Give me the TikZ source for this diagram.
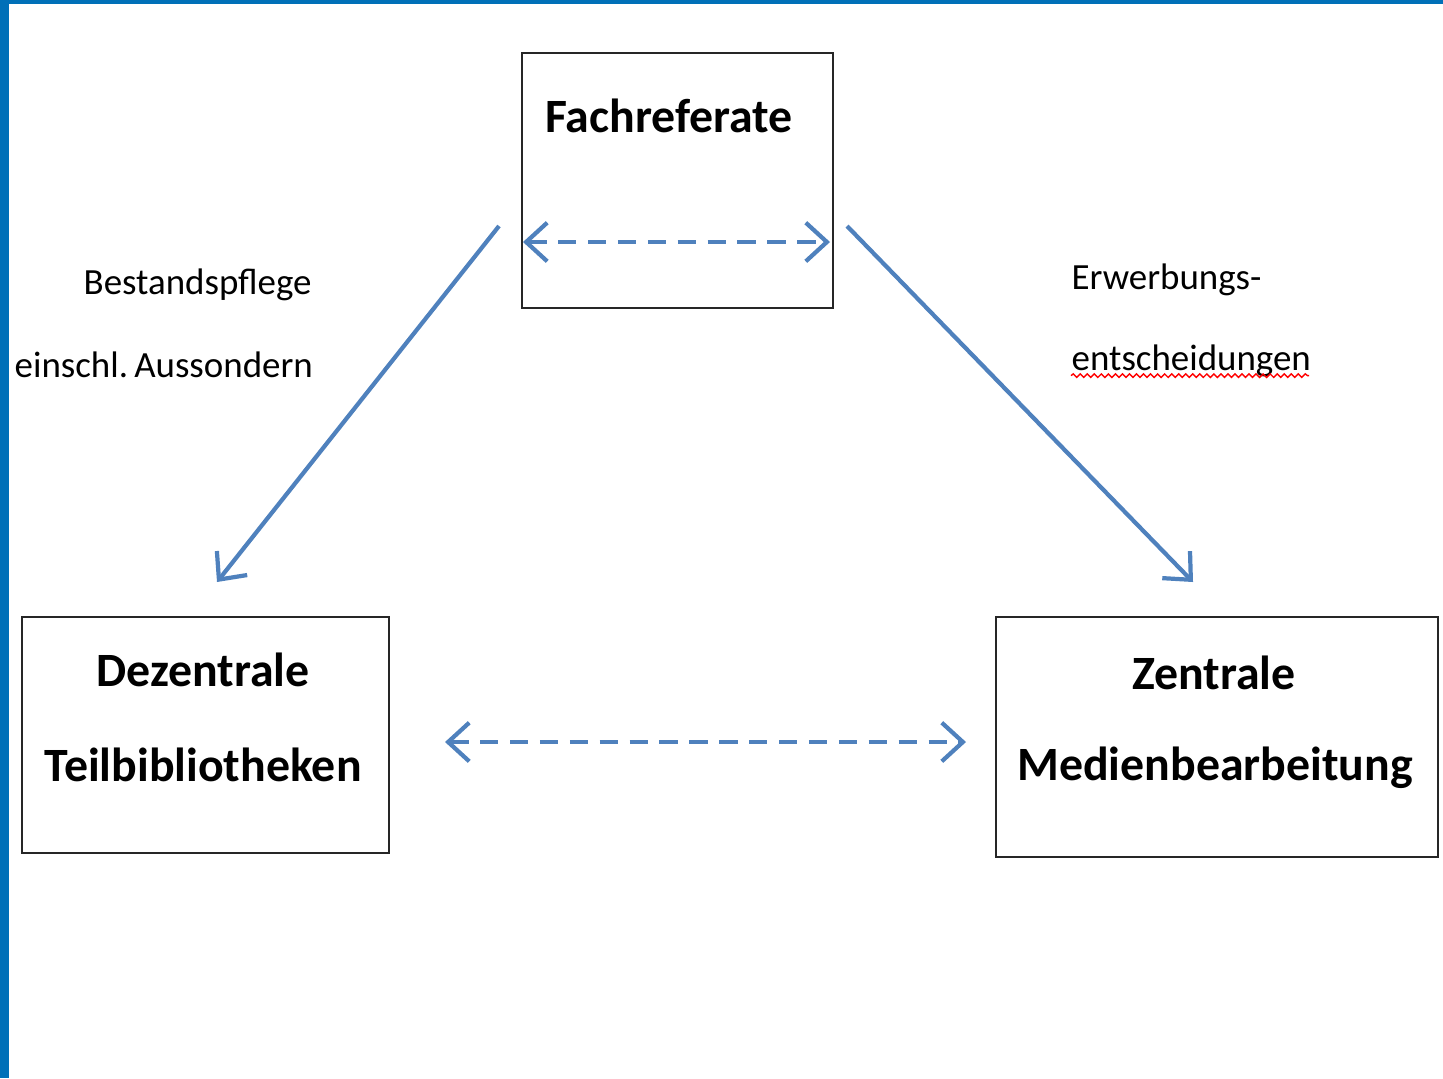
\documentclass[tikz,border=0pt]{standalone}
\usepackage{fontspec}
\setmainfont{Carlito}
\usetikzlibrary{arrows.meta,decorations.pathmorphing}
\definecolor{rahmen}{RGB}{0,112,184}
\definecolor{pfeil}{RGB}{79,129,189}
\begin{document}
\begin{tikzpicture}[x=0.01cm,y=-0.01cm,
  box/.style={draw=black!85, line width=0.6pt, rectangle, inner sep=0pt},
  titel/.style={font=\fontsize{13.6}{16}\selectfont\bfseries},
  notiz/.style={font=\fontsize{10.5}{13}\selectfont, anchor=west, inner sep=0pt},
  pfl/.style={draw=pfeil, line width=1.2pt, -{Straight Barb[length=6pt,width=11pt,line width=1.2pt]}},
  dpfl/.style={pfl, {Straight Barb[length=6pt,width=11pt,line width=1.2pt]}-{Straight Barb[length=6pt,width=11pt,line width=1.2pt]}, dash pattern=on 5.2pt off 3.3pt}]
\useasboundingbox (0,0) rectangle (1443,1078);
\fill[rahmen] (0,0) rectangle (9,1078);
\fill[rahmen] (0,0) rectangle (1443,4);

% Kaesten
\node(Fach)[box, minimum width=3.11cm, minimum height=2.55cm] at (677.5,180.5) {};
\node(Dez)[box, minimum width=3.67cm, minimum height=2.36cm] at (205.5,735) {};
\node(Zen)[box, minimum width=4.42cm, minimum height=2.40cm] at (1217,737) {};

\node(FachT)[titel] at (669,116) {Fachreferate};
\node(DezT1)[titel] at (203,670) {Dezentrale};
\node(DezT2)[titel] at (203,765) {Teilbibliotheken};
\node(ZenT1)[titel] at (1214,673) {Zentrale};
\node(ZenT2)[titel] at (1215,768) {Medienbearbeitung};

% Beschriftungen
\node(Best)[notiz] at (83,285) {Bestandspflege};
\node(Auss)[notiz] at (14,365) {einschl.\,Aussondern};
\node(Erw)[notiz] at (1071,280) {Erwerbungs-};
\node(Ent)[notiz] at (1071,361) {entscheidungen};
\draw[red, line width=0.4pt, decorate, decoration={snake, amplitude=0.5pt, segment length=2pt}]
  (Ent.base west) ++(0,5) -- ++(238,0);

% Pfeile
\coordinate(FL) at (523,242);
\coordinate(FR) at (830,242);
\coordinate(LO) at (499,226);
\coordinate(LU) at (217,582);
\coordinate(RO) at (847,226);
\coordinate(RU) at (1193,582);
\coordinate(UL) at (445,742);
\coordinate(UR) at (966,742);

\draw (FL) edge[dpfl] (FR);
\draw (LO) edge[pfl] (LU);
\draw (RO) edge[pfl] (RU);
\draw (UL) edge[dpfl] (UR);
\end{tikzpicture}
\end{document}
